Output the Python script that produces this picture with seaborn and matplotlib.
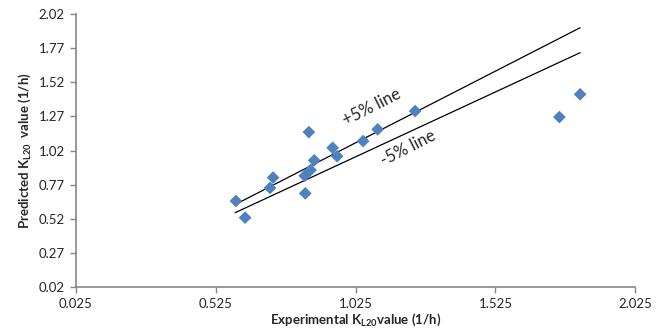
import numpy as np
import pandas as pd
import seaborn as sns
import matplotlib.pyplot as plt

# data
experimental = [0.597, 0.630, 0.719, 0.730, 0.845, 0.843, 0.864, 0.877, 0.858,
                0.943, 0.959, 1.052, 1.104, 1.238, 1.754, 1.828]
predicted = [0.65, 0.528, 0.746, 0.822, 0.706, 0.835, 0.877, 0.948, 1.155,
             1.04, 0.978, 1.089, 1.175, 1.309, 1.265, 1.432]
band_x = [0.594, 1.828]
band_factors = [1.05, 0.95]
x_ticks = [0.025, 0.525, 1.025, 1.525, 2.025]
y_ticks = [0.02, 0.27, 0.52, 0.77, 1.02, 1.27, 1.52, 1.77, 2.02]

sns.set_style("white")
plt.rcParams["font.family"] = ["Lato", "DejaVu Sans"]
plt.rcParams["mathtext.fontset"] = "custom"
plt.rcParams["mathtext.bf"] = "Lato:bold"
plt.rcParams["mathtext.rm"] = "Lato"

df = pd.DataFrame({"exp": experimental, "pred": predicted})

fig = plt.figure(figsize=(6.7, 3.36), dpi=100)
ax = fig.add_axes([0.1134, 0.1458, 0.8346, 0.8125])

bx = np.array(band_x)
for f in band_factors:
    ax.plot(bx, bx * f, color="black", lw=0.9, zorder=1)

sns.scatterplot(data=df, x="exp", y="pred", marker="D", s=42, color="#4F81BD",
                edgecolor="none", ax=ax, zorder=2)

ax.text(1.084, 1.34, "+5% line", rotation=27, fontsize=12, ha="center", va="center")
ax.text(1.213, 1.04, "-5% line", rotation=27, fontsize=12, ha="center", va="center")

ax.set_xlim(0.025, 2.025)
ax.set_ylim(0.02, 2.02)
ax.set_xticks(x_ticks)
ax.set_yticks(y_ticks)
ax.set_xticklabels([f"{t:.3f}" for t in x_ticks])
ax.set_yticklabels([f"{t:.2f}" for t in y_ticks])
ax.tick_params(axis="both", labelsize=9.5, length=4, width=1, color="#868686",
               direction="out", pad=4)
ax.xaxis.set_ticks_position("bottom")
ax.yaxis.set_ticks_position("left")
for s in ["top", "right"]:
    ax.spines[s].set_visible(False)
for s in ["left", "bottom"]:
    ax.spines[s].set_color("#868686")
    ax.spines[s].set_linewidth(1.2)

ax.set_xlabel(r"Experimental K$_{\mathbf{L20}}$value (1/h)", fontsize=9.5,
              fontweight="bold", labelpad=1)
ax.set_ylabel(r"Predicted K$_{\mathbf{L20}}$  value (1/h)", fontsize=9.5,
              fontweight="bold", labelpad=4)

fig.savefig("out.png", dpi=100)
